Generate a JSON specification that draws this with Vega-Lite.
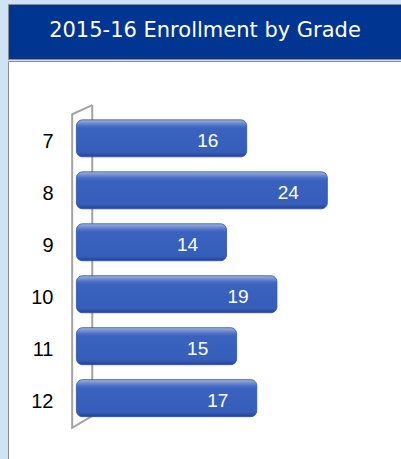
{
  "$schema": "https://vega.github.io/schema/vega-lite/v6.json",
  "background": "#d0e2f5",
  "padding": {"left": 7, "top": 3, "right": 0, "bottom": 0},
  "spacing": 0,
  "config": {"scale": {"continuousPadding": 0}},
  "datasets": {
    "grades": [
      {"grade": 7, "enrollment": 16},
      {"grade": 8, "enrollment": 24},
      {"grade": 9, "enrollment": 14},
      {"grade": 10, "enrollment": 19},
      {"grade": 11, "enrollment": 15},
      {"grade": 12, "enrollment": 17}
    ],
    "bracket": [
      {"bx": 0.67, "by": 6.36, "o": 0},
      {"bx": -1.32, "by": 6.536, "o": 1},
      {"bx": -1.32, "by": 12.57, "o": 2},
      {"bx": 0.67, "by": 12.34, "o": 3},
      {"bx": 0.67, "by": 6.36, "o": 4}
    ],
    "title": [{"label": "2015-16 Enrollment by Grade"}]
  },
  "vconcat": [
    {
      "width": 394,
      "height": 55,
      "view": {"fill": "#003591", "stroke": "#8c8c8c"},
      "data": {"name": "title"},
      "mark": {"type": "text", "color": "white", "font": "DejaVu Sans", "fontWeight": "normal", "fontSize": 21, "align": "center", "baseline": "middle", "dy": -1},
      "encoding": {"text": {"field": "label"}}
    },
    {
      "width": 394,
      "height": 399,
      "view": {"fill": "white", "stroke": "#8c8c8c"},
      "layer": [
        {
          "data": {"name": "bracket"},
          "mark": {"type": "line", "color": "#a3a3a3", "strokeWidth": 2},
          "encoding": {
            "x": {"field": "bx", "type": "quantitative", "axis": null, "scale": {"domain": [-7.69, 31.41], "nice": false, "zero": false}},
            "y": {"field": "by", "type": "quantitative", "scale": {"domain": [5.511, 13.19], "reverse": true, "nice": false, "zero": false, "padding": 0},
                  "axis": {"values": [7, 8, 9, 10, 11, 12], "format": "d", "ticks": false, "domain": false, "grid": false, "title": null, "labelPadding": -45, "labelAlign": "right", "labelFontSize": 20, "labelColor": "black", "labelFont": "Liberation Sans", "labelOffset": 3}},
            "order": {"field": "o", "type": "quantitative"}
          }
        },
        {
          "data": {"name": "grades"},
          "mark": {
            "type": "bar",
            "orient": "horizontal",
            "size": 37,
            "cornerRadius": 3,
            "cornerRadiusEnd": 6,
            "stroke": "#2d51a6",
            "strokeWidth": 0.8,
            "fill": {
              "gradient": "linear", "x1": 0, "y1": 0, "x2": 0, "y2": 1,
              "stops": [
                {"offset": 0, "color": "#a4b6de"},
                {"offset": 0.08, "color": "#7390cf"},
                {"offset": 0.17, "color": "#4a6dc6"},
                {"offset": 0.23, "color": "#3a63bf"},
                {"offset": 0.88, "color": "#355dba"},
                {"offset": 1, "color": "#23428f"}
              ]
            }
          },
          "encoding": {
            "x": {"field": "enrollment", "type": "quantitative", "axis": null},
            "x2": {"datum": -0.9},
            "y": {"field": "grade", "type": "quantitative",
                  "axis": {"values": [7, 8, 9, 10, 11, 12], "format": "d", "ticks": false, "domain": false, "grid": false, "title": null, "labelPadding": -45, "labelAlign": "right", "labelFontSize": 20, "labelColor": "black", "labelFont": "Liberation Sans", "labelOffset": 3}}
          }
        },
        {
          "data": {"name": "grades"},
          "mark": {"type": "text", "color": "white", "font": "Liberation Sans", "fontSize": 19, "align": "center", "baseline": "middle", "dx": -39, "dy": 3},
          "encoding": {
            "x": {"field": "enrollment", "type": "quantitative", "axis": null},
            "y": {"field": "grade", "type": "quantitative"},
            "text": {"field": "enrollment", "type": "quantitative"}
          }
        }
      ]
    }
  ]
}
